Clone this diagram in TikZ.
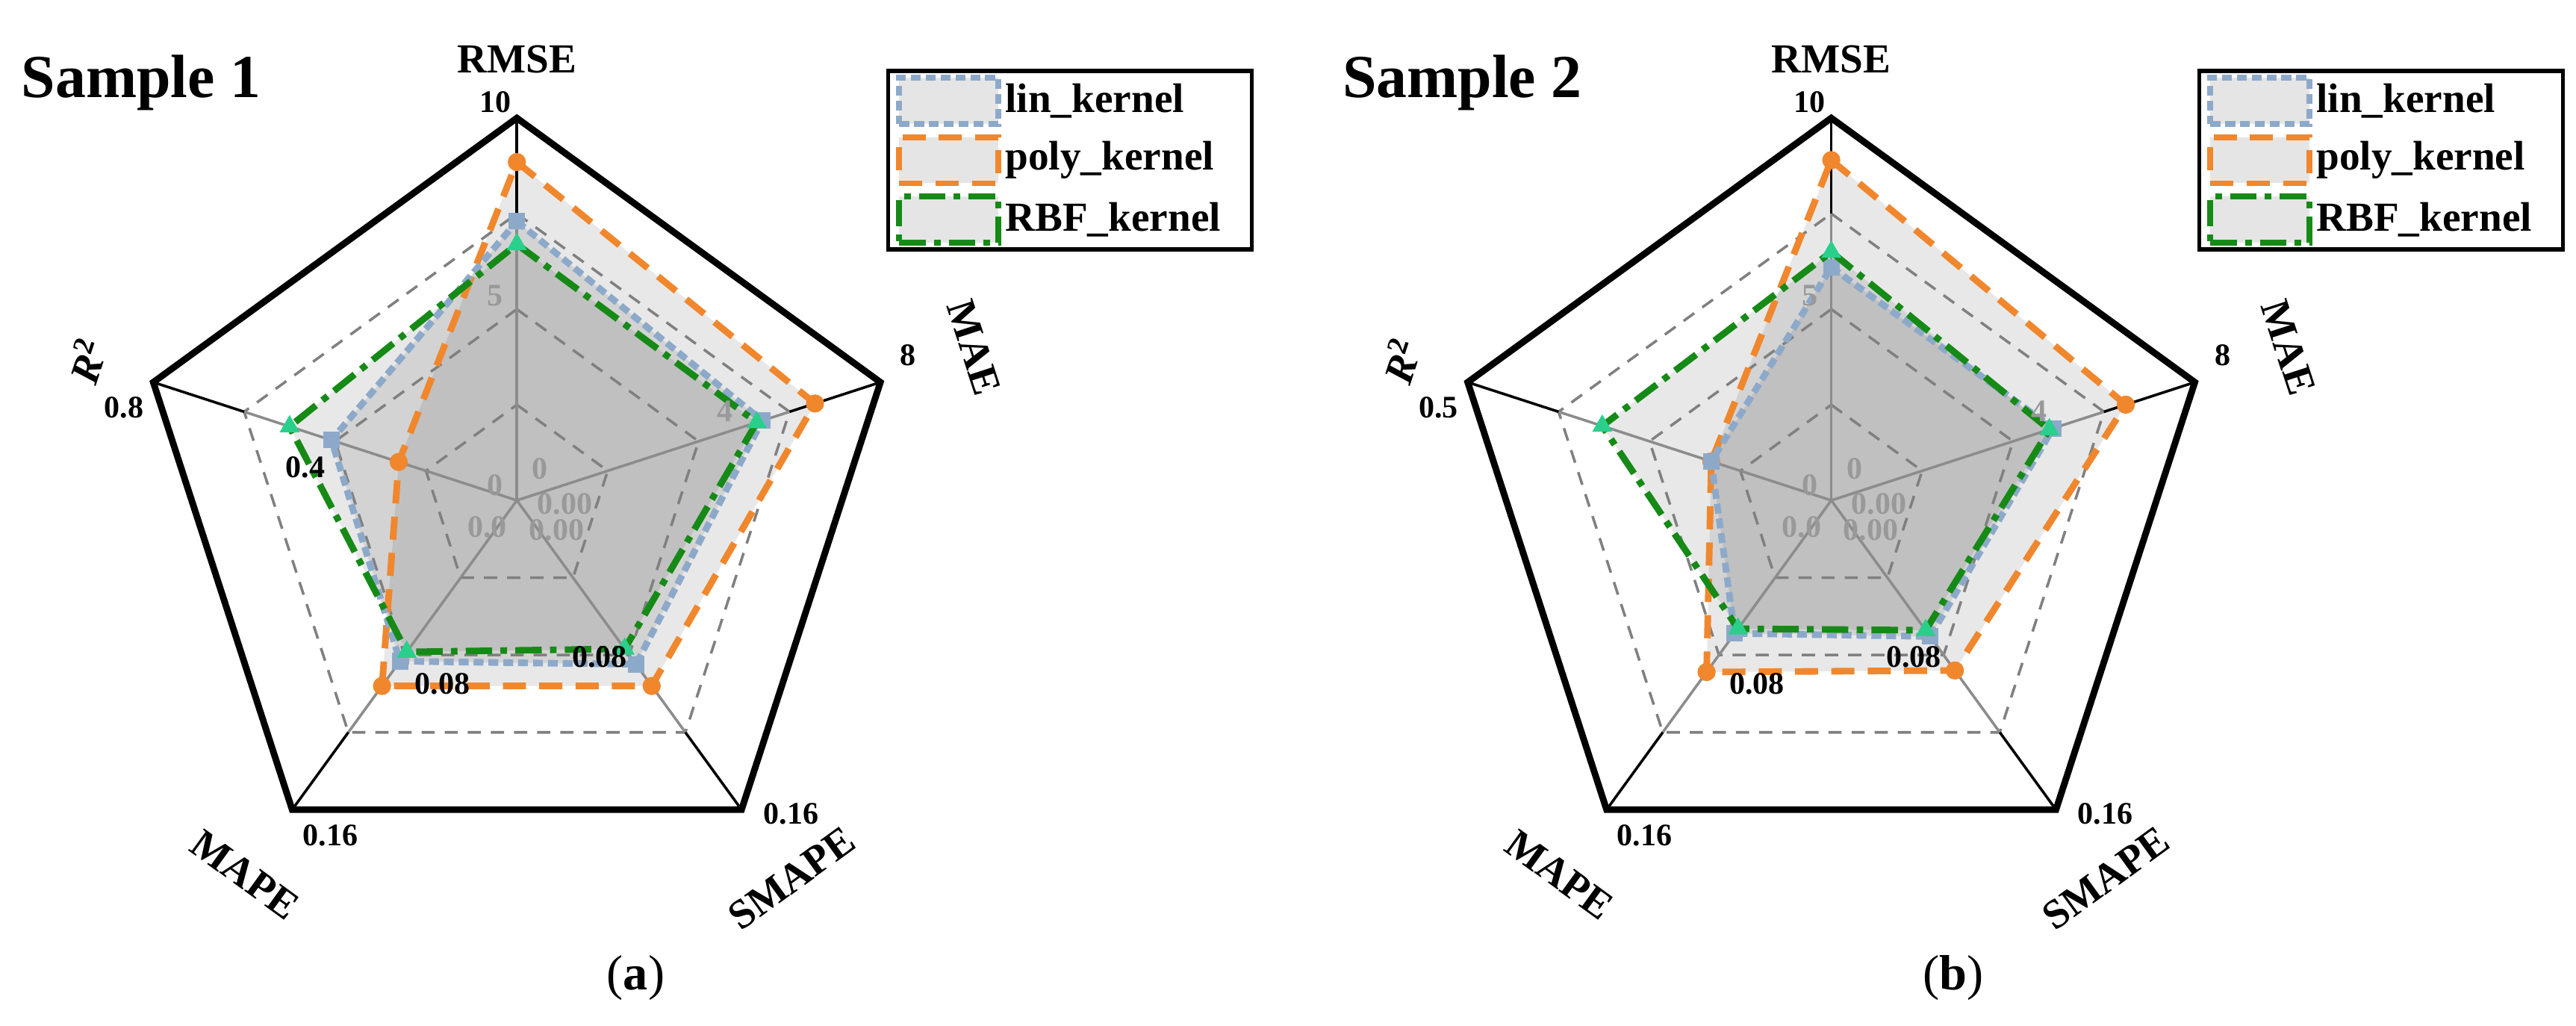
\documentclass[tikz,border=0pt]{standalone}
\usepackage{fontspec}
\setmainfont{Liberation Serif}
\usetikzlibrary{shapes.geometric}
\definecolor{linblue}{HTML}{8DA9CA}
\definecolor{polyorange}{HTML}{F0872D}
\definecolor{rbfgreen}{HTML}{168A16}
\definecolor{trigreen}{HTML}{2ACF8C}
\def\R{231.5}
% fill of one data series: prefix, five radii
\newcommand\seriesfill[6]{%
  \path (90:{#2*\R}) coordinate (#1-1) (18:{#3*\R}) coordinate (#1-2)
        (-54:{#4*\R}) coordinate (#1-3) (-126:{#5*\R}) coordinate (#1-4)
        (162:{#6*\R}) coordinate (#1-5);
  \fill[series fill] (#1-1) -- (#1-2) -- (#1-3) -- (#1-4) -- (#1-5) -- cycle;
}
% outline and markers of one data series
\newcommand\seriesline[3]{%
  \draw[#2] (#1-1) -- (#1-2) -- (#1-3) -- (#1-4) -- (#1-5) -- cycle;
  \foreach \k in {1,...,5}
    \node[#3] (#1-m\k) at (#1-\k) {};
}
% grid, spokes and frame of one chart
\newcommand\radargrid[1]{%
  \foreach \a [count=\i] in {90,18,-54,-126,162}
    \coordinate (#1-v\i) at (\a:\R);
  \foreach \f in {0.25,0.5,0.75}
    \draw[grid line] (90:{\f*\R}) -- (18:{\f*\R}) -- (-54:{\f*\R}) -- (-126:{\f*\R}) -- (162:{\f*\R}) -- cycle;
  \foreach \a in {90,18,-54,-126,162} {
    \draw[spoke] (0,0) -- (\a:{0.75*\R});
    \draw[spoke out] (\a:{0.75*\R}) -- (\a:\R);
  }
  \draw[frame] (#1-v1) -- (#1-v2) -- (#1-v3) -- (#1-v4) -- (#1-v5) -- cycle;
}
\begin{document}
\begin{tikzpicture}[
    x=0.5pt,y=0.5pt,
    font=\bfseries,
    series fill/.style={fill=black,fill opacity=0.09},
    grid line/.style={draw=black!50,line width=0.8pt,dash pattern=on 4pt off 3pt},
    spoke/.style={draw=black!45,line width=0.8pt},
    spoke out/.style={draw=black,line width=0.8pt},
    frame/.style={draw=black,line width=2pt,line join=miter},
    lin/.style={draw=linblue,line width=2pt,dash pattern=on 3pt off 1.5pt},
    poly/.style={draw=polyorange,line width=2pt,dash pattern=on 7pt off 4pt},
    rbf/.style={draw=rbfgreen,line width=2pt,dash pattern=on 8pt off 2.5pt on 2pt off 2.5pt},
    lin mark/.style={rectangle,fill=linblue,minimum size=5pt,inner sep=0pt},
    poly mark/.style={circle,fill=polyorange,minimum size=5.5pt,inner sep=0pt},
    rbf mark/.style={regular polygon,regular polygon sides=3,fill=trigreen,minimum size=7pt,inner sep=0pt},
    axis label/.style={font=\bfseries\fontsize{12.5}{13}\selectfont},
    tick/.style={font=\bfseries\fontsize{9.5}{10}\selectfont,inner sep=0pt},
    gray tick/.style={tick,text=black!40},
    title/.style={font=\bfseries\fontsize{18.5}{20}\selectfont,anchor=west},
    sub/.style={font=\fontsize{15}{17}\selectfont},
    legend box/.style={draw=black,line width=1.2pt,minimum width=110pt,minimum height=54pt,inner sep=0pt},
    swatch/.style={rectangle,fill=black!10,minimum width=30pt,minimum height=14pt,inner sep=0pt},
    legend text/.style={font=\bfseries\fontsize{12.5}{13}\selectfont,anchor=west,inner sep=0pt}
]
\useasboundingbox (0,0) rectangle (1560,-621);

% --- Sample 1 ---
\begin{scope}[shift={(313,-303)}]
  \seriesfill{A-poly}{0.885}{0.82}{0.60}{0.60}{0.325}
  \seriesfill{A-lin}{0.73}{0.675}{0.53}{0.52}{0.51}
  \seriesfill{A-rbf}{0.67}{0.66}{0.48}{0.49}{0.625}
  \radargrid{A}
  \seriesline{A-poly}{poly}{poly mark}
  \seriesline{A-lin}{lin}{lin mark}
  \seriesline{A-rbf}{rbf}{rbf mark}
  % axis names
  \node[axis label] (A-rmse) at (90:267) {RMSE};
  \node[axis label,rotate=-72] (A-mae) at (18.5:292) {MAE};
  \node[axis label,rotate=36] (A-smape) at (-54:283) {SMAPE};
  \node[axis label,rotate=-36] (A-mape) at (-126:280) {MAPE};
  \node[axis label,rotate=72] (A-r2) at (162:274) {\textit{R}\textsuperscript{2}};
  % ticks
  \node[tick] (A-t1) at (-13,241) {10};
  \node[tick] (A-t2) at (237,88) {8};
  \node[tick] (A-t3) at (166,-190) {0.16};
  \node[tick] (A-t4) at (-113,-203) {0.16};
  \node[tick] (A-t5) at (-238,56) {0.8};
  \node[tick] (A-t6) at (-45,-111) {0.08};
  \node[tick] (A-t7) at (50,-95) {0.08};
  \node[tick] (A-t8) at (-128,20) {0.4};
  \node[gray tick] (A-g1) at (-13,124) {5};
  \node[gray tick] (A-g2) at (126,54) {4};
  \node[gray tick] (A-g3) at (14,19) {0};
  \node[gray tick] (A-g4) at (-13,9) {0};
  \node[gray tick] (A-g5) at (29,-2) {0.00};
  \node[gray tick] (A-g6) at (-18,-16) {0.0};
  \node[gray tick] (A-g7) at (24,-18) {0.00};
\end{scope}
\node[title] (A-title) at (6,-50) {Sample 1};
\node[sub] (A-sub) at (385,-592) {(\textbf{a})};

% --- Sample 2 ---
\begin{scope}[shift={(1109,-303)}]
  \seriesfill{B-poly}{0.89}{0.81}{0.55}{0.555}{0.33}
  \seriesfill{B-lin}{0.61}{0.61}{0.44}{0.43}{0.33}
  \seriesfill{B-rbf}{0.65}{0.60}{0.42}{0.415}{0.63}
  \radargrid{B}
  \seriesline{B-poly}{poly}{poly mark}
  \seriesline{B-lin}{lin}{lin mark}
  \seriesline{B-rbf}{rbf}{rbf mark}
  \node[axis label] (B-rmse) at (90:267) {RMSE};
  \node[axis label,rotate=-72] (B-mae) at (18.5:292) {MAE};
  \node[axis label,rotate=36] (B-smape) at (-54:283) {SMAPE};
  \node[axis label,rotate=-36] (B-mape) at (-126:280) {MAPE};
  \node[axis label,rotate=72] (B-r2) at (162:274) {\textit{R}\textsuperscript{2}};
  \node[tick] (B-t1) at (-13,241) {10};
  \node[tick] (B-t2) at (237,88) {8};
  \node[tick] (B-t3) at (166,-190) {0.16};
  \node[tick] (B-t4) at (-113,-203) {0.16};
  \node[tick] (B-t5) at (-238,56) {0.5};
  \node[tick] (B-t6) at (-45,-111) {0.08};
  \node[tick] (B-t7) at (50,-95) {0.08};
  \node[gray tick] (B-g1) at (-13,124) {5};
  \node[gray tick] (B-g2) at (126,54) {4};
  \node[gray tick] (B-g3) at (14,19) {0};
  \node[gray tick] (B-g4) at (-13,9) {0};
  \node[gray tick] (B-g5) at (29,-2) {0.00};
  \node[gray tick] (B-g6) at (-18,-16) {0.0};
  \node[gray tick] (B-g7) at (24,-18) {0.00};
\end{scope}
\node[title] (B-title) at (806,-50) {Sample 2};
\node[sub] (B-sub) at (1183,-592) {(\textbf{b})};

% --- legends ---
\foreach \p/\lx in {A/648,B/1442} {
  \node[legend box] (\p-leg) at (\lx,-97) {};
  \foreach \s/\t [count=\j] in {lin/lin\_kernel,poly/poly\_kernel,rbf/RBF\_kernel} {
    \node[swatch,\s,line width=1.8pt,anchor=west] (\p-sw\j) at ([xshift=3pt,yshift={(2-\j)*18pt}]\p-leg.west) {};
    \node[legend text] (\p-lt\j) at ([xshift=1pt]\p-sw\j.east) {\t};
  }
}
\end{tikzpicture}
\end{document}
